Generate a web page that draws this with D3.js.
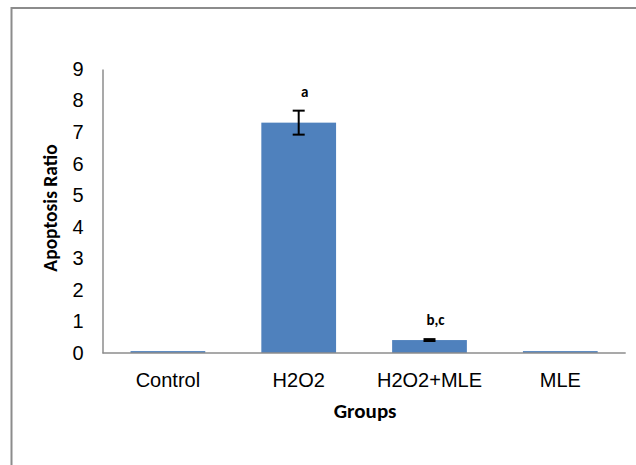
<!DOCTYPE html>
<html>
<head>
<meta charset="utf-8">
<script src="https://cdn.jsdelivr.net/npm/d3@7"></script>
<style>
  body { margin: 0; background: #fff; }
  svg { display: block; font-family: Carlito, Lato, "Open Sans", sans-serif; }
</style>
</head>
<body>
<svg id="chart" width="636" height="465"></svg>
<script>
// values
const groups = ['Control', 'H2O2', 'H2O2+MLE', 'MLE'];
const ratios = [0.06, 7.3, 0.41, 0.06];
const errors = [0, 0.38, 0.03, 0];
const letters = ['', 'a', 'b,c', ''];
const yTicks = [0, 1, 2, 3, 4, 5, 6, 7, 8, 9];

const svg = d3.select('#chart');
const plotLeft = 102.5, plotRight = 625.7, plotTop = 69, plotBottom = 353;

// outer frame (cut off at the right and bottom)
svg.append('rect')
  .attr('x', 11.5).attr('y', 8)
  .attr('width', 700).attr('height', 600)
  .attr('fill', 'none')
  .attr('stroke', '#8c8c8c')
  .attr('stroke-width', 2);

const x = d3.scaleBand().domain(groups).range([plotLeft, plotRight]).paddingInner(0.4286).paddingOuter(0.2143);
const y = d3.scaleLinear().domain([0, 9]).range([plotBottom, plotTop]);

// bars
svg.append('g').selectAll('rect')
  .data(groups)
  .enter()
  .append('rect')
  .attr('x', d => x(d))
  .attr('width', x.bandwidth())
  .attr('y', (d, i) => y(ratios[i]))
  .attr('height', (d, i) => y(0) - y(ratios[i]))
  .attr('fill', '#4f81bd');

// error bars
const eb = svg.append('g').attr('stroke', '#000').attr('stroke-width', 2);
groups.forEach((g, i) => {
  if (!errors[i]) return;
  const cx = x(g) + x.bandwidth() / 2;
  const y1 = y(ratios[i] + errors[i]), y2 = y(ratios[i] - errors[i]);
  eb.append('line').attr('x1', cx).attr('x2', cx).attr('y1', y1).attr('y2', y2);
  eb.append('line').attr('x1', cx - 6).attr('x2', cx + 6).attr('y1', y1).attr('y2', y1);
  eb.append('line').attr('x1', cx - 6).attr('x2', cx + 6).attr('y1', y2).attr('y2', y2);
});

// significance letters
svg.append('g').selectAll('text')
  .data(groups)
  .enter()
  .append('text')
  .attr('x', d => x(d) + x.bandwidth() / 2 + 6)
  .attr('y', (d, i) => y(ratios[i] + errors[i]) - 14)
  .attr('text-anchor', 'middle')
  .attr('font-size', 15)
  .attr('font-weight', 'bold')
  .text((d, i) => letters[i]);

// y axis
const yAxis = svg.append('g')
  .attr('transform', `translate(${plotLeft},0)`)
  .call(d3.axisLeft(y).tickValues(yTicks).tickSize(0).tickPadding(19).tickFormat(d3.format('d')));
yAxis.select('.domain').attr('stroke', '#8c8c8c').attr('stroke-width', 1.5);
yAxis.selectAll('text').attr('font-size', 20).attr('fill', '#000').attr('font-family', null);

// x axis
const xAxis = svg.append('g')
  .attr('transform', `translate(0,${plotBottom})`)
  .call(d3.axisBottom(x).tickSize(0).tickPadding(20).tickSizeOuter(0));
xAxis.select('.domain').attr('stroke', '#8c8c8c').attr('stroke-width', 1.5)
  .attr('d', `M${plotLeft},0H${plotRight}`);
xAxis.selectAll('text').attr('font-size', 20).attr('fill', '#000').attr('font-family', null);

// axis titles
svg.append('text')
  .attr('x', (plotLeft + plotRight) / 2 + 1).attr('y', 418)
  .attr('text-anchor', 'middle')
  .attr('font-size', 21).attr('font-weight', 'bold')
  .text('Groups');

svg.append('text')
  .attr('transform', 'translate(57,208) rotate(-90)')
  .attr('text-anchor', 'middle')
  .attr('font-size', 19.5).attr('font-weight', 'bold')
  .text('Apoptosis Ratio');
</script>
</body>
</html>
